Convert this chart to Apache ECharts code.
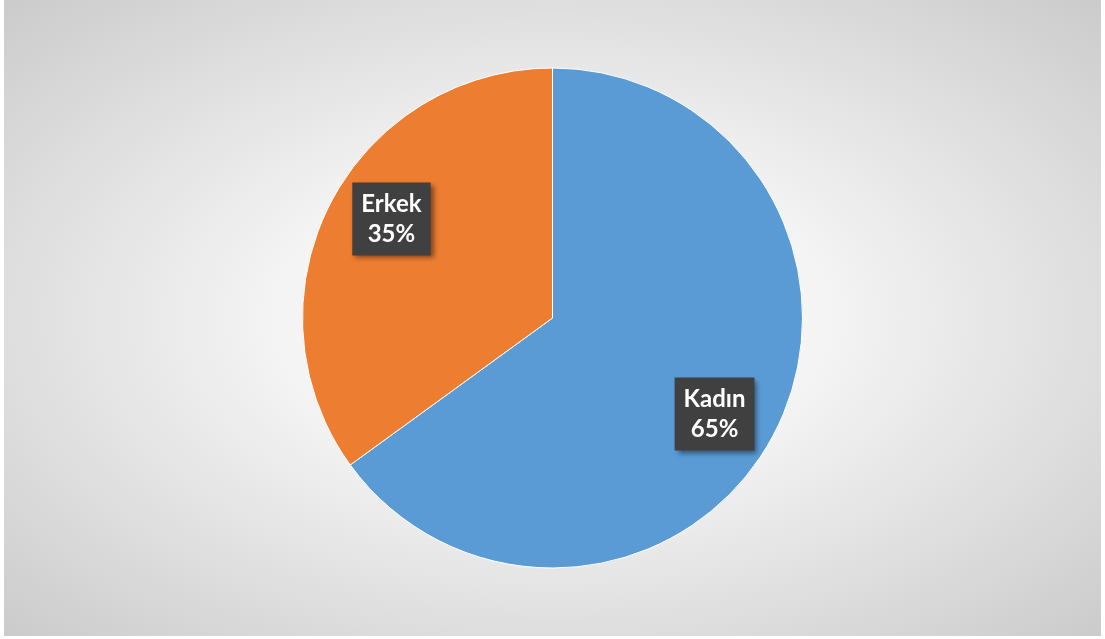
<!DOCTYPE html>
<html>
<head>
<meta charset="utf-8">
<script src="https://cdn.jsdelivr.net/npm/echarts@6/dist/echarts.min.js"></script>
<style>
  html, body { margin: 0; padding: 0; background: #fff; }
  #chart {
    position: absolute; left: 4px; top: 0; width: 1097px; height: 636px;
    background: radial-gradient(ellipse at 50% 50%, #ffffff 0%, #f4f4f4 35%, #dedede 70%, #cbcbcb 100%);
  }
</style>
</head>
<body>
<div id="chart"></div>
<script>
const categories = ['Kadın', 'Erkek'];
const values = [65, 35];
const colors = ['#5B9BD5', '#ED7D31'];

const labelShift = [[48, 38], [-47, -41]];

const chart = echarts.init(document.getElementById('chart'));
chart.setOption({
    animation: false,
    series: [{
        type: 'pie',
        center: ['50%', '50%'],
        radius: 250,
        startAngle: 90,
        clockwise: true,
        data: categories.map((name, i) => ({
            name: name,
            value: values[i],
            itemStyle: { color: colors[i] },
        })),
        itemStyle: { borderColor: '#fff', borderWidth: 1 },
        label: {
            position: 'inside',
            formatter: (p) => p.name + '\n' + Math.round(p.percent) + '%',
            color: '#fff',
            fontFamily: 'Lato',
            fontWeight: 'bold',
            fontSize: 24,
            lineHeight: 30,
            backgroundColor: '#404040',
            padding: [7, 9, 6, 9],
            shadowColor: 'rgba(0,0,0,0.45)',
            shadowBlur: 5,
            shadowOffsetX: 3,
            shadowOffsetY: 3,
        },
        labelLine: { show: false },
        labelLayout: (params) => ({
            dx: labelShift[params.dataIndex][0],
            dy: labelShift[params.dataIndex][1],
        }),
        emphasis: { disabled: true },
    }],
});
</script>
</body>
</html>
